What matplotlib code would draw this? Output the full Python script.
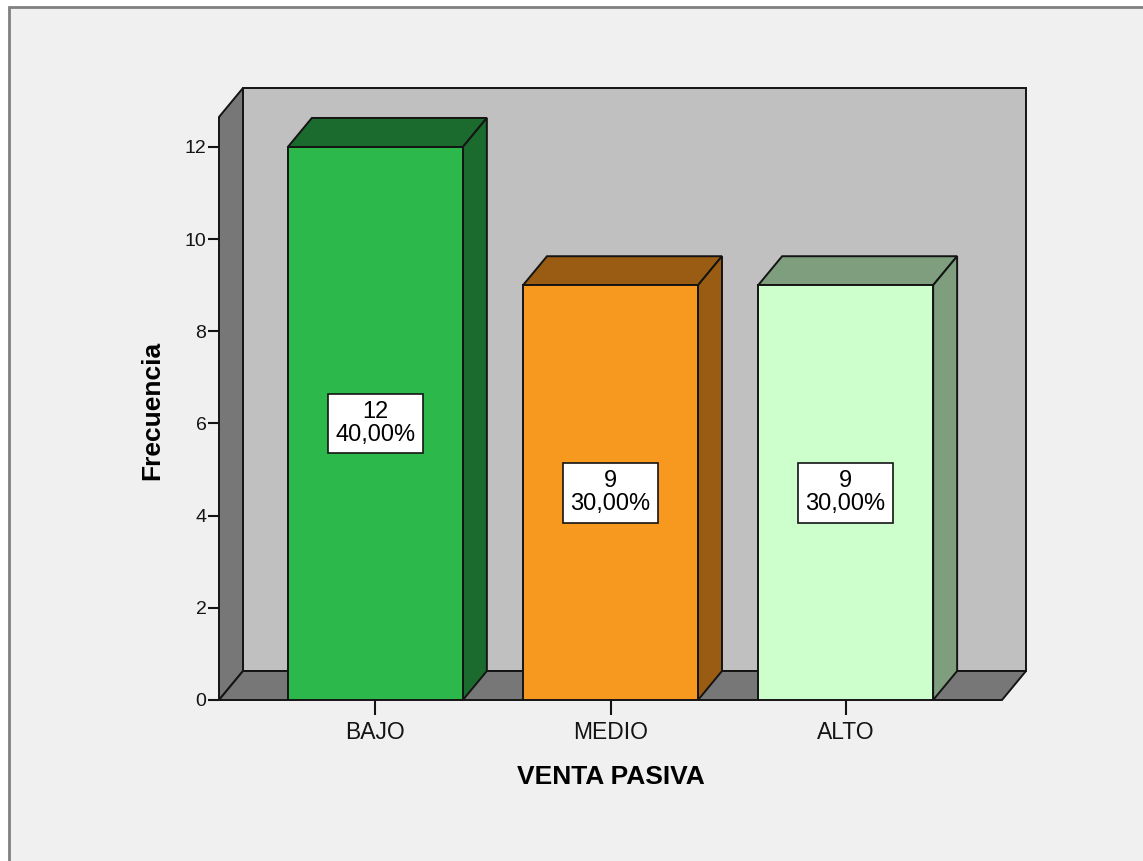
import matplotlib
matplotlib.use("Agg")
import matplotlib.pyplot as plt
from matplotlib.patches import Polygon, Rectangle

plt.rcParams['font.family'] = ['Liberation Sans', 'DejaVu Sans']

# data
categorias = ['BAJO', 'MEDIO', 'ALTO']
frecuencias = [12, 9, 9]
porcentajes = ['40,00%', '30,00%', '30,00%']
colores = ['#2DB84B', '#F7991F', '#CCFFCC']
colores_osc = ['#1C6B2E', '#9A5C12', '#7E9E7E']

W, H = 1143, 861
fig = plt.figure(figsize=(W / 100, H / 100), dpi=100)
fig.patch.set_facecolor('white')

# outer frame of the SPSS viewer
fig.add_artist(Rectangle((9 / W, -0.1), 1.2, (H - 7) / H + 0.1, transform=fig.transFigure,
                         facecolor='#F0F0F0', edgecolor='#808080', linewidth=2, zorder=0))

# axes = front plane of the 3d box
left, right, bottom, top = 219, 1002, 700, 117
ax = fig.add_axes([left / W, (H - bottom) / H, (right - left) / W, (bottom - top) / H])
ax.set_facecolor('none')
for s in ax.spines.values():
    s.set_visible(False)

x0, x1 = -0.665, 2.665
ymax = 12.65
ax.set_xlim(x0, x1)
ax.set_ylim(0, ymax)

# depth offset (data units)
dx = 24 / (right - left) * (x1 - x0)
dy = 29 / (bottom - top) * ymax

lw = 1.4
ec = '#141414'
wall = '#777777'
# back wall
ax.add_patch(Polygon([(x0 + dx, dy), (x1 + dx, dy), (x1 + dx, ymax + dy), (x0 + dx, ymax + dy)],
                     closed=True, facecolor='#C0C0C0', edgecolor=ec, lw=lw, clip_on=False, zorder=1))
# left wall
ax.add_patch(Polygon([(x0, 0), (x0 + dx, dy), (x0 + dx, ymax + dy), (x0, ymax)],
                     closed=True, facecolor=wall, edgecolor=ec, lw=lw, clip_on=False, zorder=2))
# floor
ax.add_patch(Polygon([(x0, 0), (x1, 0), (x1 + dx, dy), (x0 + dx, dy)],
                     closed=True, facecolor=wall, edgecolor=ec, lw=lw, clip_on=False, zorder=2))

bw = 175 / (right - left) * (x1 - x0)
xs = list(range(len(categorias)))
ax.bar(xs, frecuencias, width=bw, color=colores, edgecolor=ec, linewidth=lw, zorder=4)
for i, v in enumerate(frecuencias):
    a, b = i - bw / 2, i + bw / 2
    ax.add_patch(Polygon([(a, v), (b, v), (b + dx, v + dy), (a + dx, v + dy)], closed=True,
                         facecolor=colores_osc[i], edgecolor=ec, lw=lw, clip_on=False, zorder=3))
    ax.add_patch(Polygon([(b, 0), (b + dx, dy), (b + dx, v + dy), (b, v)], closed=True,
                         facecolor=colores_osc[i], edgecolor=ec, lw=lw, clip_on=False, zorder=3))
    ax.text(i, v / 2, f'{v}\n{porcentajes[i]}', ha='center', va='center', fontsize=17,
            linespacing=1.1, zorder=6,
            bbox=dict(boxstyle='square,pad=0.3', facecolor='white', edgecolor=ec, linewidth=1.2))

ax.set_yticks(range(0, 13, 2))
ax.set_xticks(xs)
ax.set_xticklabels(categorias)
ax.tick_params(axis='y', length=8, width=1.5, pad=1, labelsize=14, colors=ec)
ax.tick_params(axis='x', length=11, width=1.5, pad=4, labelsize=16.5, colors=ec)

fig.text(152 / W, 1 - 410 / H, 'Frecuencia', rotation=90, ha='center', va='center',
         fontsize=19, fontweight='bold')
fig.text(611 / W, 1 - 777 / H, 'VENTA PASIVA', ha='center', va='center',
         fontsize=19, fontweight='bold')

fig.savefig('out.png', dpi=100)
